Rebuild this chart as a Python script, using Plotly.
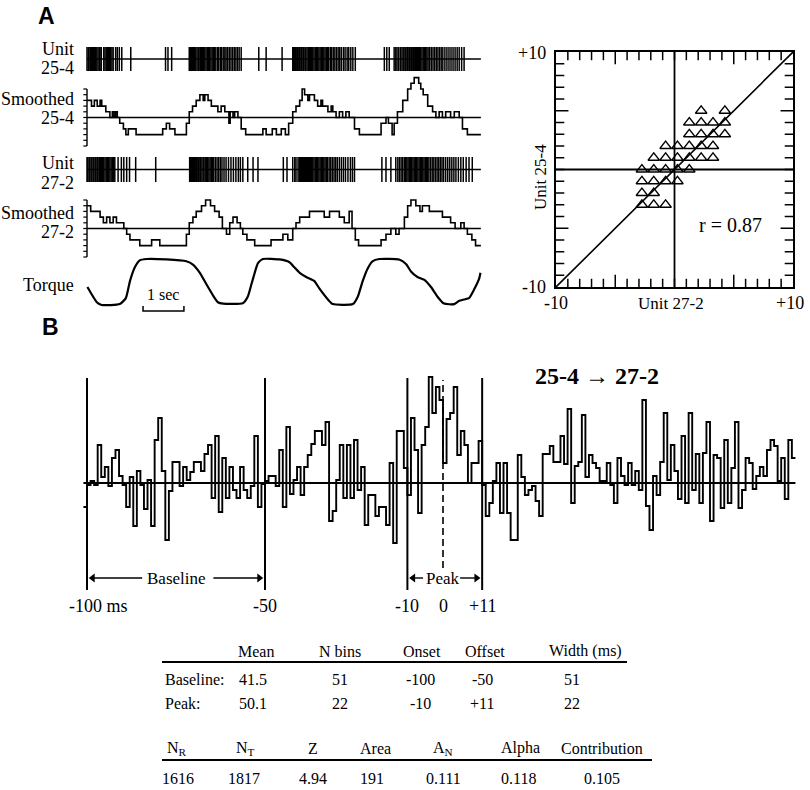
import plotly.graph_objects as go

W, H = 810, 790
SERIF = "Liberation Serif, Times New Roman, serif"
SANS = "Liberation Sans, Arial, sans-serif"

# ---------------- DATA ----------------
T_END = 9.63  # s, length of the record in panel A

spikes_25_4 = [0.00,0.03,0.05,0.08,0.11,0.13,0.16,0.19,0.21,0.24,0.27,0.30,0.32,0.35,0.41,0.44,0.47,0.50,0.53,0.55,
               0.58,0.61,0.64,0.70,0.74,0.79,0.85,1.07,1.92,1.98,2.07,
               2.50,2.53,2.55,2.58,2.61,2.63,2.66,2.69,2.72,2.74,2.77,2.80,2.83,2.85,2.88,2.91,2.94,2.97,3.00,3.03,
               3.06,3.09,3.12,3.15,3.19,3.22,3.26,3.29,3.33,3.37,3.40,3.44,3.48,3.52,3.56,3.60,3.64,3.68,3.72,3.77,
               4.20,4.38,4.77,
               5.03,5.05,5.08,5.10,5.13,5.15,5.18,5.20,5.23,5.25,5.28,5.30,5.33,5.35,5.38,5.41,5.44,5.46,5.49,5.52,
               5.55,5.58,5.61,5.64,5.67,5.70,5.73,5.76,5.79,5.82,5.85,5.88,5.91,5.95,5.98,6.02,6.06,6.10,6.14,6.18,
               6.22,6.27,6.31,6.36,6.40,6.45,6.50,6.56,
               7.27,7.33,7.39,7.51,7.55,7.58,7.62,7.66,7.70,7.73,7.75,7.78,7.80,7.83,7.85,7.88,7.90,7.93,7.95,7.98,
               8.00,8.03,8.05,8.08,8.10,8.13,8.16,8.19,8.22,8.25,8.28,8.31,8.34,8.38,8.42,8.46,8.50,8.54,8.58,8.62,
               8.66,8.70,8.75,8.80,8.85,8.90,8.95,9.00,9.05,9.10,9.16,9.22]

spikes_27_2 = [0.00,0.02,0.05,0.07,0.10,0.12,0.15,0.17,0.20,0.22,0.25,0.27,0.30,0.33,0.35,0.38,0.41,0.44,0.47,0.50,
               0.53,0.56,0.59,0.62,0.65,0.68,0.76,0.84,0.90,0.97,1.04,1.19,1.68,
               2.51,2.53,2.56,2.58,2.61,2.63,2.66,2.68,2.71,2.73,2.76,2.78,2.81,2.84,2.86,2.89,2.92,2.95,2.98,3.01,
               3.04,3.07,3.10,3.14,3.18,3.22,3.26,3.30,3.35,3.40,3.46,3.52,3.58,3.64,3.70,3.75,3.81,
               3.93,4.06,4.18,4.80,4.89,
               5.03,5.08,5.11,5.16,5.19,5.22,5.24,5.27,5.29,5.32,5.34,5.37,5.39,5.42,5.44,5.47,5.49,5.52,5.55,5.58,
               5.61,5.64,5.67,5.70,5.73,5.76,5.79,5.82,5.85,5.88,5.92,5.96,6.00,6.04,6.08,6.12,6.17,6.22,6.27,6.32,
               6.38,6.44,6.49,6.54,
               7.21,7.31,7.43,7.55,7.60,7.64,7.68,7.72,7.76,7.79,7.82,7.85,7.88,7.91,7.94,7.97,8.00,8.03,8.06,8.09,
               8.12,8.15,8.18,8.21,8.24,8.27,8.30,8.33,8.36,8.40,8.44,8.48,8.52,8.56,8.60,8.64,8.68,8.72,8.77,8.82,
               8.87,8.92,8.97,9.02,9.08,9.14,9.20,9.27,9.34,9.42]

smooth_25_4_t = [0.00,0.11,0.18,0.25,0.32,0.36,0.46,0.56,0.62,0.66,0.70,0.74,0.80,0.89,0.95,1.01,1.20,1.85,1.94,2.02,
                 2.15,2.43,2.50,2.58,2.67,2.76,2.84,2.88,2.96,3.04,3.20,3.28,3.37,3.47,3.50,3.57,3.61,3.69,3.77,3.88,
                 4.30,4.38,4.53,4.63,4.75,4.85,4.93,5.03,5.11,5.20,5.26,5.32,5.40,5.44,5.56,5.64,5.72,5.76,5.89,5.97,
                 6.01,6.09,6.17,6.25,6.33,6.41,6.54,6.66,7.19,7.31,7.37,7.46,7.51,7.59,7.72,7.84,7.92,8.00,8.11,8.16,
                 8.22,8.33,8.45,8.53,8.61,8.69,8.77,8.89,8.98,9.10,9.18,9.30]
smooth_25_4_v = [3,2,3,2,3,2,1,0,1,0,1,0,-1,-2,-3,-2,-3,-2,-1,-2,
                 -3,-1,1,2,3,4,3,4,3,2,1,2,1,-1,1,0,1,0,-2,-3,
                 -2,-3,-2,-3,-2,-3,-1,1,2,3,5,4,3,4,3,2,3,2,1,2,
                 1,0,1,0,1,0,-2,-3,-1,0,-1,-3,-1,1,3,5,6,7,6,5,
                 4,2,1,0,1,0,1,0,1,0,-2,-3]

smooth_27_2_t = [0.00,0.09,0.32,0.40,0.48,0.56,0.64,0.72,0.90,0.97,1.05,1.29,1.58,1.78,2.43,2.50,2.59,2.67,2.80,2.90,
                 3.02,3.12,3.23,3.31,3.41,3.49,3.57,3.67,3.75,3.81,3.91,4.10,4.50,4.79,4.91,5.03,5.11,5.20,5.44,5.80,
                 5.93,6.17,6.29,6.41,6.48,6.56,6.64,7.19,7.31,7.43,7.55,7.63,7.76,7.84,7.92,8.04,8.14,8.20,8.37,8.69,
                 8.89,9.00,9.14,9.22,9.30,9.41,9.50]
smooth_27_2_v = [4,3,2,1,2,1,2,1,0,-1,-2,-3,-2,-3,-1,1,2,3,4,5,
                 4,3,2,0,-1,1,2,1,0,-1,-2,-3,-2,-1,-2,0,1,2,3,2,
                 3,2,1,3,0,-2,-3,-2,-1,0,-1,0,2,4,5,4,3,4,3,2,
                 1,0,1,0,-1,-2,-3]

torque_t = [0.01,0.24,0.36,0.80,0.95,1.05,1.17,1.29,1.46,1.94,2.43,2.59,2.76,2.92,3.08,3.20,3.33,3.81,3.93,4.02,
            4.10,4.18,4.30,4.71,4.95,5.07,5.20,5.36,5.56,5.68,5.89,6.01,6.50,6.62,6.74,6.86,6.98,7.15,7.63,7.80,
            7.92,8.08,8.24,8.41,8.57,8.73,8.98,9.10,9.22,9.34,9.46,9.59,9.62]
torque_v = [0.39,0.06,0.00,0.02,0.15,0.52,0.82,0.97,1.00,0.99,0.95,0.88,0.70,0.45,0.21,0.06,0.03,0.04,0.18,0.45,
            0.70,0.91,1.00,0.99,0.93,0.82,0.70,0.61,0.52,0.36,0.12,0.02,0.02,0.18,0.52,0.79,0.95,1.00,0.99,0.89,
            0.73,0.61,0.55,0.39,0.18,0.03,0.02,0.09,0.12,0.15,0.33,0.58,0.70]
scale_bar_s = [1.37, 2.37]

scatter_x = [2.25, 4.25,
             1.25, 2.25, 3.25, 4.25,
             1.25, 2.25, 3.25, 4.25,
             -0.75, 0.25, 1.25, 2.25, 3.25,
             -1.75, -0.75, 0.25, 1.25, 2.25, 3.25,
             -2.75, -1.75, -0.75, 0.25, 1.25,
             -2.75, -1.75, -0.75, 0.25,
             -2.75, -1.75,
             -2.75, -1.75, -0.75]
scatter_y = [5, 5,
             4, 4, 4, 4,
             3, 3, 3, 3,
             2, 2, 2, 2, 2,
             1, 1, 1, 1, 1, 1,
             0, 0, 0, 0, 0,
             -1, -1, -1, -1,
             -2, -2,
             -3, -3, -3]
r_label = "r = 0.87"

hist_start_ms = -101
hist_dev = [-24,
    -2,2,-2,38,6,16,-3,25,33,7, -2,-24,6,-43,12,-2,-26,3,-43,43, 65,12,-57,-8,21,21,-3,16,3,11,
    21,21,12,29,38,-15,47,-29,25,-15, 16,-7,-15,16,-7,-15,-3,47,-24,-1,
    2,7,7,-3,33,-24,56,-11,3,16, -12,16,28,39,52,52,38,61,-38,-28, 3,38,-15,38,-15,43,-7,16,-42,-12,
    -12,-33,-24,-24,-42,20,-60,52,52,15, -12,65,33,-30,38,56,106,70,96,83,
    20,64,70,96,28,52,38,0,20,20,42,
    -2,-33,-20,2,20,-30,20,-30,-57,-57, 28,6,-12,-7,-3,-18,-33,29,29,37, 21,21,47,19,74,-20,17,21,68,6,
    28,20,15,2,2,20,-2,-20,25,
    7,-2,20,-2,12,-7,83,-23,-47,7, -12,21,70,3,38,12,-16,47,-20,70, -7,29,-20,30,61,-38,28,25,-25,43,
    -20,15,61,-25,-7,25,20,-6,7,16, 7,33,43,37,2,25,-16,43,25]
window_edges_ms = [-100, -50, -10, 11]
trigger_ms = 0
tick_ms = [-100, -50, -10, 0, 11]
tick_labels = ["-100 ms", "-50", "-10", "0", "+11"]
pair_from, pair_to = "25-4", "27-2"

table1_header = ["Mean", "N bins", "Onset", "Offset", "Width (ms)"]
table1_rows = [["Baseline:", "41.5", "51", "-100", "-50", "51"],
               ["Peak:", "50.1", "22", "-10", "+11", "22"]]
table2_header = ["N<sub>R</sub>", "N<sub>T</sub>", "Z", "Area", "A<sub>N</sub>", "Alpha", "Contribution"]
table2_values = ["1616", "1817", "4.94", "191", "0.111", "0.118", "0.105"]

# ---------------- LAYOUT HELPERS ----------------
def dx(a, b):
    return [a / W, b / W]

def dy(top, bottom):
    return [1 - bottom / H, 1 - top / H]

def ann(text, x, y, size=17, xanchor="center", yanchor="middle", family=SERIF, angle=0):
    return dict(text=text, x=x / W, y=1 - y / H, xref="paper", yref="paper", showarrow=False,
                xanchor=xanchor, yanchor=yanchor, textangle=angle,
                font=dict(family=family, size=size, color="black"))

# time axis of panel A: px = 87 + 40.9 * t
PXS, X0 = 40.9, 87
A_LEFT, A_RIGHT = 78, 490
t_range = [(A_LEFT - X0) / PXS, (A_RIGHT - X0) / PXS]

fig = go.Figure()
BLK = "black"

def seg_trace(xs, ys, xa, ya, width=1.0, dash=None):
    fig.add_trace(go.Scatter(x=xs, y=ys, mode="lines", xaxis=xa, yaxis=ya, hoverinfo="skip",
                             line=dict(color=BLK, width=width, dash=dash), showlegend=False))

# ---- rasters ----
for spikes, xa, ya in [(spikes_25_4, "x", "y"), (spikes_27_2, "x3", "y3")]:
    xs, ys = [], []
    for s in spikes:
        xs += [s, s, None]
        ys += [-1, 1, None]
    seg_trace(xs, ys, xa, ya, 1.5)
    seg_trace([0, T_END], [0, 0], xa, ya, 1.4)

# ---- smoothed traces ----
for tt, vv, xa, ya in [(smooth_25_4_t, smooth_25_4_v, "x2", "y2"), (smooth_27_2_t, smooth_27_2_v, "x4", "y4")]:
    seg_trace([0, T_END], [0, 0], xa, ya, 1.4)
    seg_trace([0, 0], [-5, 5], xa, ya, 1.4)
    xs, ys = [], []
    for lv in range(-5, 6):
        xs += [-0.09, 0, None]
        ys += [lv, lv, None]
    seg_trace(xs, ys, xa, ya, 1.2)
    fig.add_trace(go.Scatter(x=tt + [T_END], y=vv + [vv[-1]], mode="lines", line_shape="hv",
                             xaxis=xa, yaxis=ya, hoverinfo="skip", showlegend=False,
                             line=dict(color=BLK, width=1.6)))

# ---- torque ----
fig.add_trace(go.Scatter(x=torque_t, y=torque_v, mode="lines", line_shape="spline",
                         xaxis="x5", yaxis="y5", hoverinfo="skip", showlegend=False,
                         line=dict(color=BLK, width=2.2, smoothing=0.5)))
seg_trace([scale_bar_s[0], scale_bar_s[0], scale_bar_s[1], scale_bar_s[1]],
          [-0.02, -0.13, -0.13, -0.02], "x5", "y5", 1.5)

# ---- scatter ----
seg_trace([-10, 10], [-10, 10], "x6", "y6", 1.6)
tx, ty = [], []
for v in range(-9, 10):
    ln = 1.05 if v in (-5, 5) else 0.7
    tx += [v, v, None, v, v, None, -10, -10 + ln, None, 10, 10 - ln, None]
    ty += [-10, -10 + ln, None, 10, 10 - ln, None, v, v, None, v, v, None]
seg_trace(tx, ty, "x6", "y6", 1.5)
# zero cross-lines of the scatter panel
seg_trace([0, 0, None, -10, 10], [-10, 10, None, 0, 0], "x6", "y6", 1.8)
fig.add_trace(go.Scatter(x=scatter_x, y=scatter_y, mode="markers", xaxis="x6", yaxis="y6",
                         hoverinfo="skip", showlegend=False,
                         marker=dict(symbol="triangle-up-open", size=10, color=BLK,
                                     line=dict(color=BLK, width=1.3))))

# ---- histogram ----
edges = [hist_start_ms + i for i in range(len(hist_dev) + 1)]
seg_trace([edges[0], edges[-1]], [0, 0], "x7", "y7", 2.0)
xs, ys = [], []
for e in window_edges_ms:
    xs += [e, e, None]
    ys += [-107, 105, None]
seg_trace(xs, ys, "x7", "y7", 2.0)
seg_trace([trigger_ms, trigger_ms], [-85, 103], "x7", "y7", 1.6, dash="7px,4px")
fig.add_trace(go.Scatter(x=edges, y=hist_dev + [hist_dev[-1]], mode="lines", line_shape="hv",
                         xaxis="x7", yaxis="y7", hoverinfo="skip", showlegend=False,
                         line=dict(color=BLK, width=1.9)))

b0, b1 = window_edges_ms[0], window_edges_ms[1]
p0, p1 = window_edges_ms[2], window_edges_ms[3]
ARY = -95
shafts = [(b0 + 1.0, b0 + 15.5), (b1 - 14.5, b1 - 1.0), (p0 + 1.0, p0 + 4.4), (p1 - 6.2, p1 - 1.0)]
xs, ys = [], []
for a, b in shafts:
    xs += [a, b, None]
    ys += [ARY, ARY, None]
seg_trace(xs, ys, "x7", "y7", 1.4)
fig.add_trace(go.Scatter(x=[b0 + 1.6, p0 + 1.6], y=[ARY, ARY], mode="markers", xaxis="x7", yaxis="y7",
                         hoverinfo="skip", showlegend=False,
                         marker=dict(symbol="triangle-left", size=8, color=BLK)))
fig.add_trace(go.Scatter(x=[b1 - 1.6, p1 - 1.6], y=[ARY, ARY], mode="markers", xaxis="x7", yaxis="y7",
                         hoverinfo="skip", showlegend=False,
                         marker=dict(symbol="triangle-right", size=8, color=BLK)))

# ---------------- AXES ----------------
def hidden(domain_x, domain_y, rng_x, rng_y, anchor_y, anchor_x):
    return (dict(domain=domain_x, range=rng_x, visible=False, anchor=anchor_y),
            dict(domain=domain_y, range=rng_y, visible=False, anchor=anchor_x))

layout = dict(width=W, height=H, margin=dict(l=0, r=0, t=0, b=0),
              paper_bgcolor="white", plot_bgcolor="rgba(0,0,0,0)", showlegend=False)

ax, ay = hidden(dx(A_LEFT, A_RIGHT), dy(44, 74), t_range, [-(74 - 59) / 12, (59 - 44) / 12], "y", "x")
layout["xaxis"], layout["yaxis"] = ax, ay
ax, ay = hidden(dx(A_LEFT, A_RIGHT), dy(72, 152), t_range, [-(152 - 117.5) / 5.7, (117.5 - 72) / 5.7], "y2", "x2")
layout["xaxis2"], layout["yaxis2"] = ax, ay
ax, ay = hidden(dx(A_LEFT, A_RIGHT), dy(154, 185), t_range, [-(185 - 169.5) / 12.5, (169.5 - 154) / 12.5], "y3", "x3")
layout["xaxis3"], layout["yaxis3"] = ax, ay
ax, ay = hidden(dx(A_LEFT, A_RIGHT), dy(190, 262), t_range, [-(262 - 228.5) / 5.7, (228.5 - 190) / 5.7], "y4", "x4")
layout["xaxis4"], layout["yaxis4"] = ax, ay
ax, ay = hidden(dx(A_LEFT, A_RIGHT), dy(250, 320), t_range, [-(320 - 305) / 46, (305 - 250) / 46], "y5", "x5")
layout["xaxis5"], layout["yaxis5"] = ax, ay

sc_common = dict(range=[-10, 10], showline=True, linecolor=BLK, linewidth=1.8, mirror=True,
                 ticks="", showticklabels=False, showgrid=False, zeroline=False, fixedrange=True)
layout["xaxis6"] = dict(domain=dx(556, 793), anchor="y6", **sc_common)
layout["yaxis6"] = dict(domain=dy(52, 287), anchor="x6", **sc_common)

HX_L, HX_R = 78, 800
layout["xaxis7"] = dict(domain=dx(HX_L, HX_R), range=[-100 + (HX_L - 87) / 3.56, -100 + (HX_R - 87) / 3.56],
                        visible=False, anchor="y7")
layout["yaxis7"] = dict(domain=dy(362, 620), range=[-(620 - 483), 483 - 362], visible=False, anchor="x7")

annotations = []
annotations.append(ann("<b>A</b>", 46, 16, size=23, family=SANS))
annotations.append(ann("<b>B</b>", 50, 327, size=23, family=SANS))
for txt, yy in [("Unit", 49), ("25-4", 68), ("Smoothed", 99), ("25-4", 118), ("Unit", 163), ("27-2", 183),
                ("Smoothed", 213), ("27-2", 232), ("Torque", 285)]:
    annotations.append(ann(txt, 76, yy, size=18, xanchor="right"))
annotations.append(dict(text="1 sec", x=sum(scale_bar_s) / 2, y=-0.02, xref="x5", yref="y5", showarrow=False,
                        yanchor="bottom", yshift=1, font=dict(family=SERIF, size=16, color=BLK)))
annotations.append(ann("+10", 548, 53, size=18, xanchor="right"))
annotations.append(ann("-10", 548, 287, size=18, xanchor="right"))
annotations.append(ann("-10", 556, 303, size=18))
annotations.append(ann("Unit 27-2", 671, 303, size=17))
annotations.append(ann("+10", 790, 303, size=18))
annotations.append(ann("Unit 25-4", 541, 177, size=17, angle=-90))
annotations.append(dict(text=r_label, x=4.7, y=-4.7, xref="x6", yref="y6", showarrow=False,
                        font=dict(family=SERIF, size=20, color=BLK)))
title_txt = "<b>" + pair_from + " \u2192 " + pair_to + "</b>"
annotations.append(ann(title_txt, 597, 376, size=24))
for tv, tl in zip(tick_ms, tick_labels):
    a = dict(text=tl, x=tv, y=-123, xref="x7", yref="y7", showarrow=False, yanchor="middle",
             font=dict(family=SERIF, size=18, color=BLK))
    if tl.endswith("ms"):
        a["xanchor"] = "left"
        a["xshift"] = -20
    annotations.append(a)
annotations.append(dict(text="Baseline", x=(b0 + b1) / 2, y=ARY, xref="x7", yref="y7", showarrow=False,
                        font=dict(family=SERIF, size=17, color=BLK)))
annotations.append(dict(text="Peak", x=(p0 + p1) / 2 - 0.5, y=ARY, xref="x7", yref="y7", showarrow=False,
                        font=dict(family=SERIF, size=17, color=BLK)))

t1_cols = [256, 340, 422, 485, 585]
for txt, xx in zip(table1_header, t1_cols):
    annotations.append(ann(txt, xx, 651, size=16))
row_val_cols = [253, 340, 421, 482, 572]
for row, yy in zip(table1_rows, [679, 703]):
    annotations.append(ann(row[0], 163, yy, size=16, xanchor="left"))
    for txt, xx in zip(row[1:], row_val_cols):
        annotations.append(ann(txt, xx, yy, size=16))
t2_cols = [177, 245, 313, 375, 443, 520, 602]
for txt, xx in zip(table2_header, t2_cols):
    annotations.append(ann(txt, xx, 748, size=16))
t2_vals_cols = [178, 244, 313, 372, 443, 518, 602]
for txt, xx in zip(table2_values, t2_vals_cols):
    annotations.append(ann(txt, xx, 778, size=16))

shapes = [
    dict(type="line", xref="paper", yref="paper", x0=162 / W, x1=627 / W, y0=1 - 662 / H, y1=1 - 662 / H,
         line=dict(color=BLK, width=2)),
    dict(type="line", xref="paper", yref="paper", x0=162 / W, x1=652 / W, y0=1 - 760 / H, y1=1 - 760 / H,
         line=dict(color=BLK, width=2)),
]

layout["annotations"] = annotations
layout["shapes"] = shapes
fig.update_layout(**layout)
fig.write_html("out.html", config={"displayModeBar": False, "staticPlot": True},
               post_script="document.body.style.margin='0';document.body.style.overflow='hidden';")
